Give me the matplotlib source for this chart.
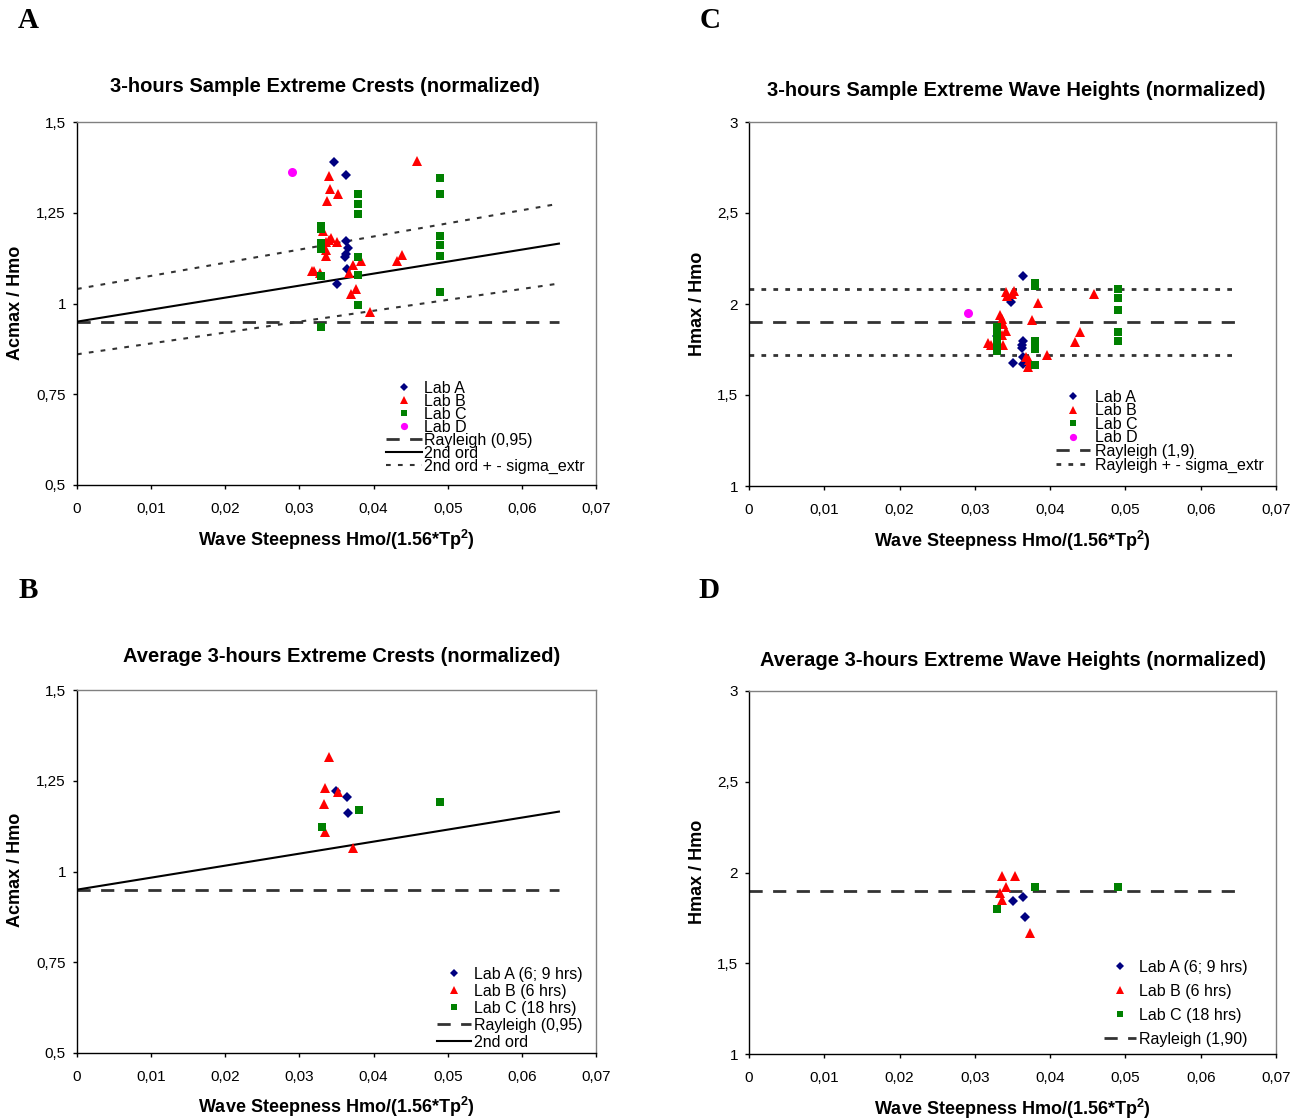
import matplotlib
matplotlib.use("Agg")
import matplotlib.pyplot as plt
from matplotlib.ticker import MultipleLocator, FuncFormatter

plt.rcParams['font.family'] = ['Liberation Sans', 'DejaVu Sans']
plt.rcParams['mathtext.fontset'] = 'custom'
plt.rcParams['mathtext.rm'] = 'Liberation Sans:bold'
plt.rcParams['mathtext.bf'] = 'Liberation Sans:bold'
plt.rcParams['mathtext.it'] = 'Liberation Sans:bold'
plt.rcParams['lines.scale_dashes'] = False

# ---------------- data ----------------
# Panel A: 3-hours sample extreme crests (normalized)
a_labA_x = [0.0346, 0.0363, 0.0363, 0.0366, 0.0363, 0.0362, 0.0364, 0.0350]
a_labA_y = [1.391, 1.354, 1.173, 1.154, 1.136, 1.127, 1.095, 1.053]
a_labB_x = [0.0458, 0.0340, 0.0341, 0.0352, 0.0337, 0.0332, 0.0343, 0.0340, 0.0350, 0.0336,
            0.0336, 0.0336, 0.0383, 0.0372, 0.0438, 0.0432, 0.0317, 0.0319, 0.0328, 0.0367,
            0.0376, 0.0370, 0.0395]
a_labB_y = [1.393, 1.352, 1.315, 1.301, 1.283, 1.200, 1.180, 1.175, 1.170, 1.170,
            1.147, 1.131, 1.118, 1.106, 1.134, 1.117, 1.090, 1.089, 1.083, 1.085,
            1.039, 1.026, 0.977]
a_labC_x = [0.0489, 0.0489, 0.0489, 0.0489, 0.0489, 0.0489,
            0.0379, 0.0379, 0.0379, 0.0379, 0.0379, 0.0379,
            0.0329, 0.0329, 0.0329, 0.0329, 0.0329, 0.0329]
a_labC_y = [1.345, 1.302, 1.185, 1.162, 1.132, 1.032,
            1.302, 1.275, 1.246, 1.127, 1.079, 0.995,
            1.213, 1.206, 1.167, 1.151, 1.076, 0.936]
a_labD_x = [0.0290]
a_labD_y = [1.361]

# Panel C: 3-hours sample extreme wave heights (normalized)
c_labA_x = [0.0364, 0.0348, 0.0364, 0.0363, 0.0362, 0.0364, 0.0350, 0.0364, 0.0329]
c_labA_y = [2.154, 2.013, 1.798, 1.773, 1.760, 1.707, 1.678, 1.670, 1.824]
c_labB_x = [0.0341, 0.0352, 0.0343, 0.0349, 0.0458, 0.0384, 0.0334, 0.0336, 0.0337, 0.0376, 0.0341,
            0.0439, 0.0336, 0.0433, 0.0317, 0.0321, 0.0338, 0.0396, 0.0368, 0.0372, 0.0373, 0.0370]
c_labB_y = [2.064, 2.071, 2.046, 2.053, 2.057, 2.007, 1.938, 1.916, 1.890, 1.912, 1.852,
            1.845, 1.830, 1.793, 1.785, 1.777, 1.775, 1.718, 1.711, 1.692, 1.674, 1.652]
c_labC_x = [0.0380, 0.0380, 0.0490, 0.0490, 0.0490, 0.0330, 0.0330, 0.0330, 0.0330, 0.0330,
            0.0490, 0.0490, 0.0380, 0.0380, 0.0380]
c_labC_y = [2.117, 2.099, 2.084, 2.031, 1.967, 1.876, 1.853, 1.806, 1.762, 1.740,
            1.846, 1.797, 1.795, 1.755, 1.665]
c_labD_x = [0.0291]
c_labD_y = [1.952]

# Panel B: average 3-hours extreme crests (normalized)
b_labA_x = [0.0349, 0.0364, 0.0366]
b_labA_y = [1.222, 1.205, 1.161]
b_labB_x = [0.0340, 0.0335, 0.0352, 0.0333, 0.0335, 0.0372]
b_labB_y = [1.315, 1.229, 1.220, 1.185, 1.110, 1.066]
b_labC_x = [0.0330, 0.0380, 0.0490]
b_labC_y = [1.123, 1.169, 1.191]

# Panel D: average 3-hours extreme wave heights (normalized)
d_labA_x = [0.0350, 0.0364, 0.0367]
d_labA_y = [1.843, 1.867, 1.753]
d_labB_x = [0.0336, 0.0353, 0.0341, 0.0334, 0.0336, 0.0373]
d_labB_y = [1.982, 1.981, 1.918, 1.889, 1.848, 1.665]
d_labC_x = [0.0330, 0.0380, 0.0490]
d_labC_y = [1.799, 1.918, 1.922]

# reference lines
line_x = [0.0, 0.065]
rayleigh_crest = [0.95, 0.95]
second_ord = [0.95, 1.165]
second_ord_up = [1.04, 1.275]
second_ord_lo = [0.86, 1.055]
rayleigh_height = [1.90, 1.90]
rayleigh_height_up = [2.08, 2.08]
rayleigh_height_lo = [1.72, 1.72]

titles = ["3-hours Sample Extreme Crests (normalized)",
          "3-hours Sample Extreme Wave Heights (normalized)",
          "Average 3-hours Extreme Crests (normalized)",
          "Average 3-hours Extreme Wave Heights (normalized)"]
xlabel = "Wave Steepness Hmo/(1.56*Tp$^{2}$)"

# ---------------- styling ----------------
W, H = 1301, 1120
NAVY, RED, GREEN, MAG = '#000080', '#FF0000', '#008000', '#FF00FF'
DGRAY = '#333333'
FS = 11.5
fig = plt.figure(figsize=(W / 100, H / 100), dpi=100)


def fx(x):
    return x / W


def fy(y):
    return 1 - y / H


def make_ax(l, r, t, b, ylim, ystep):
    ax = fig.add_axes([fx(l), fy(b), fx(r - l), (b - t) / H])
    ax.set_xlim(0, 0.07)
    ax.set_ylim(*ylim)
    ax.xaxis.set_major_locator(MultipleLocator(0.01))
    ax.yaxis.set_major_locator(MultipleLocator(ystep))
    f = FuncFormatter(lambda v, p: f"{v:g}".replace('.', ','))
    ax.xaxis.set_major_formatter(f)
    ax.yaxis.set_major_formatter(f)
    for s in ['top', 'right']:
        ax.spines[s].set_color('#808080')
        ax.spines[s].set_linewidth(1.0)
    for s in ['left', 'bottom']:
        ax.spines[s].set_color('black')
        ax.spines[s].set_linewidth(1.0)
    ax.tick_params(direction='out', length=3, width=1, labelsize=11, colors='black')
    ax.tick_params(axis='x', pad=9)
    ax.tick_params(axis='y', pad=5)
    ax.set_facecolor('white')
    return ax


def scatter_labs(ax, xs_ys, labels):
    styles = [('D', NAVY, 4.6), ('^', RED, 6.5), ('s', GREEN, 5.2), ('o', MAG, 6.5)]
    handles = []
    for (x, y), lab, (m, c, ms) in zip(xs_ys, labels, styles):
        h, = ax.plot(x, y, linestyle='none', marker=m, color=c, markersize=ms,
                     markeredgewidth=0, label=lab, zorder=4)
        handles.append(h)
    return handles


dash_long = (0, (9.5, 7.5))
dash_short = (0, (3.4, 5.2))

# ---- Panel A ----
axA = make_ax(77, 596, 122, 485, (0.5, 1.5), 0.25)
hA = scatter_labs(axA, [(a_labA_x, a_labA_y), (a_labB_x, a_labB_y), (a_labC_x, a_labC_y),
                        (a_labD_x, a_labD_y)], ['Lab A', 'Lab B', 'Lab C', 'Lab D'])
l1, = axA.plot(line_x, rayleigh_crest, color=DGRAY, lw=2.0, linestyle=dash_long, label='Rayleigh (0,95)')
l2, = axA.plot(line_x, second_ord, color='black', lw=1.5, label='2nd ord')
l3, = axA.plot(line_x, second_ord_up, color=DGRAY, lw=1.5, linestyle=dash_short, label='2nd ord + - sigma_extr')
axA.plot(line_x, second_ord_lo, color=DGRAY, lw=1.5, linestyle=dash_short)

# ---- Panel C ----
axC = make_ax(749, 1276, 122, 486, (1, 3), 0.5)
hC = scatter_labs(axC, [(c_labA_x, c_labA_y), (c_labB_x, c_labB_y), (c_labC_x, c_labC_y),
                        (c_labD_x, c_labD_y)], ['Lab A', 'Lab B', 'Lab C', 'Lab D'])
m1, = axC.plot(line_x, rayleigh_height, color=DGRAY, lw=2.0, linestyle=dash_long, label='Rayleigh (1,9)')
m2, = axC.plot(line_x, rayleigh_height_up, color=DGRAY, lw=2.0, linestyle=dash_short, label='Rayleigh + - sigma_extr')
axC.plot(line_x, rayleigh_height_lo, color=DGRAY, lw=2.0, linestyle=dash_short)

# ---- Panel B ----
axB = make_ax(77, 596, 690, 1053, (0.5, 1.5), 0.25)
hB = scatter_labs(axB, [(b_labA_x, b_labA_y), (b_labB_x, b_labB_y), (b_labC_x, b_labC_y)],
                  ['Lab A (6; 9 hrs)', 'Lab B (6 hrs)', 'Lab C (18 hrs)'])
n1, = axB.plot(line_x, rayleigh_crest, color=DGRAY, lw=2.0, linestyle=dash_long, label='Rayleigh (0,95)')
n2, = axB.plot(line_x, second_ord, color='black', lw=1.5, label='2nd ord')

# ---- Panel D ----
axD = make_ax(749, 1276, 691, 1054, (1, 3), 0.5)
hD = scatter_labs(axD, [(d_labA_x, d_labA_y), (d_labB_x, d_labB_y), (d_labC_x, d_labC_y)],
                  ['Lab A (6; 9 hrs)', 'Lab B (6 hrs)', 'Lab C (18 hrs)'])
o1, = axD.plot(line_x, rayleigh_height, color=DGRAY, lw=2.0, linestyle=dash_long, label='Rayleigh (1,90)')


def legend(ax, handles, x, y, spacing, hl, hp):
    leg = ax.legend(handles=handles, loc='upper left', bbox_to_anchor=(fx(x), fy(y)),
                    bbox_transform=fig.transFigure, frameon=False, fontsize=FS,
                    labelspacing=spacing, handlelength=hl, handletextpad=hp,
                    borderpad=0, borderaxespad=0, markerscale=0.8)
    return leg


legend(axA, hA + [l1, l2, l3], 386, 381, -0.125, 2.25, 0.12)
legend(axC, hC + [m1, m2], 1056, 390, -0.095, 2.12, 0.3)
legend(axB, hB + [n1, n2], 437, 967, 0.12, 2.12, 0.19)
legend(axD, hD + [o1], 1104, 960, 0.56, 2.0, 0.19)

# titles, labels, panel letters
tfont = dict(fontsize=14.5, fontweight='bold', ha='center', va='center')
fig.text(fx(325), fy(87), titles[0], **tfont)
fig.text(fx(1016), fy(90), titles[1], **tfont)
fig.text(fx(342), fy(656), titles[2], **tfont)
fig.text(fx(1013), fy(661), titles[3], **tfont)

lfont = dict(fontsize=13, fontweight='bold', ha='center', va='center')
for (x, y) in [(336, 540), (1012, 541), (336, 1107), (1012, 1109)]:
    fig.text(fx(x), fy(y), xlabel, **lfont)
fig.text(fx(16), fy(303), "Acmax / Hmo", rotation=90, **lfont)
fig.text(fx(697), fy(304), "Hmax / Hmo", rotation=90, **lfont)
fig.text(fx(16), fy(870), "Acmax / Hmo", rotation=90, **lfont)
fig.text(fx(697), fy(872), "Hmax / Hmo", rotation=90, **lfont)

pfont = dict(fontsize=21, fontweight='bold', ha='center', va='center',
             family=['Liberation Serif', 'DejaVu Serif'])
fig.text(fx(28), fy(20), "A", **pfont)
fig.text(fx(710), fy(20), "C", **pfont)
fig.text(fx(28), fy(590), "B", **pfont)
fig.text(fx(709), fy(590), "D", **pfont)

fig.savefig("out.png", dpi=100, facecolor='white')
